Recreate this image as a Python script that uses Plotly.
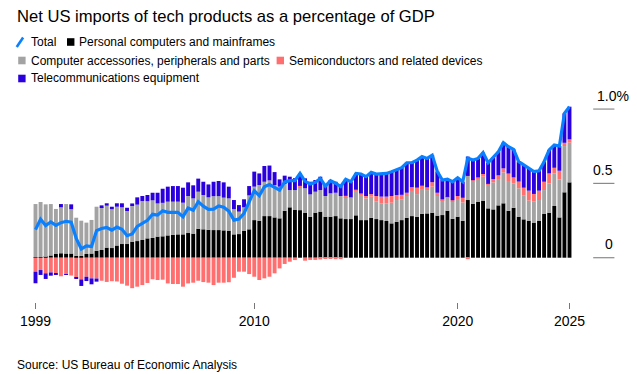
import pandas as pd
import plotly.graph_objects as go

# ---------------- data (share of GDP, %) ----------------
quarters = pd.period_range("1999Q1", "2025Q2", freq="Q")
dates = [p.end_time.strftime("%Y-%m-%d") for p in quarters]

pc = [0.003, 0.004, 0.005, 0.015, 0.025, 0.030, 0.028, 0.028, 0.013, 0.012,
      0.025, 0.028, 0.047, 0.052, 0.068, 0.065, 0.082, 0.092, 0.092, 0.108,
      0.112, 0.119, 0.130, 0.133, 0.142, 0.144, 0.150, 0.153, 0.157, 0.157,
      0.166, 0.162, 0.195, 0.191, 0.188, 0.186, 0.186, 0.184, 0.182, 0.157,
      0.159, 0.182, 0.191, 0.253, 0.249, 0.280, 0.280, 0.271, 0.265, 0.316,
      0.339, 0.321, 0.320, 0.303, 0.276, 0.303, 0.310, 0.276, 0.276, 0.280,
      0.265, 0.260, 0.260, 0.285, 0.253, 0.253, 0.269, 0.260, 0.253, 0.247,
      0.231, 0.242, 0.253, 0.269, 0.280, 0.276, 0.296, 0.298, 0.303, 0.283,
      0.287, 0.316, 0.262, 0.276, 0.249, 0.388, 0.363, 0.377, 0.384, 0.332,
      0.325, 0.352, 0.366, 0.316, 0.336, 0.276, 0.258, 0.249, 0.236, 0.247,
      0.294, 0.303, 0.348, 0.271, 0.440, 0.507]

acc = [0.358, 0.371, 0.354, 0.346, 0.303, 0.309, 0.333, 0.298, 0.256, 0.237,
       0.211, 0.226, 0.296, 0.287, 0.282, 0.261, 0.261, 0.247, 0.222, 0.245,
       0.245, 0.262, 0.250, 0.253, 0.223, 0.225, 0.227, 0.224, 0.220, 0.213,
       0.249, 0.237, 0.249, 0.231, 0.218, 0.228, 0.228, 0.220, 0.217, 0.170,
       0.151, 0.157, 0.228, 0.225, 0.240, 0.231, 0.240, 0.218, 0.213, 0.180,
       0.116, 0.134, 0.151, 0.164, 0.150, 0.141, 0.145, 0.139, 0.157, 0.157,
       0.150, 0.146, 0.144, 0.170, 0.173, 0.146, 0.141, 0.117, 0.113, 0.119,
       0.139, 0.146, 0.140, 0.146, 0.169, 0.152, 0.166, 0.157, 0.175, 0.132,
       0.101, 0.090, 0.115, 0.119, 0.123, 0.162, 0.155, 0.155, 0.161, 0.161,
       0.182, 0.177, 0.208, 0.200, 0.164, 0.191, 0.159, 0.135, 0.141, 0.141,
       0.161, 0.197, 0.219, 0.256, 0.311, 0.267]

semi = [-0.094, -0.083, -0.105, -0.099, -0.105, -0.125, -0.112, -0.120, -0.135, -0.146,
        -0.128, -0.139, -0.140, -0.155, -0.163, -0.158, -0.160, -0.175, -0.188, -0.205,
        -0.195, -0.184, -0.170, -0.145, -0.150, -0.148, -0.173, -0.177, -0.177, -0.195,
        -0.173, -0.168, -0.155, -0.164, -0.168, -0.184, -0.168, -0.168, -0.165, -0.135,
        -0.094, -0.094, -0.110, -0.128, -0.150, -0.139, -0.128, -0.105, -0.072, -0.042,
        -0.027, -0.016, 0.012, -0.020, -0.015, -0.015, -0.012, -0.008, -0.005, -0.010,
        -0.010, 0.010, 0.003, 0.003, 0.007, 0.016, 0.018, 0.038, 0.045, 0.045,
        0.045, 0.034, 0.030, 0.022, 0.025, 0.043, 0.022, 0.018, 0.030, 0.022,
        0.005, 0.003, 0.010, 0.020, 0.031, -0.010, 0.004, 0.009, 0.018, 0.004,
        0.022, 0.025, 0.027, 0.050, 0.040, 0.045, 0.054, 0.067, 0.052, 0.063,
        0.056, 0.067, 0.038, 0.058, 0.022, 0.022]

tel = [-0.078, -0.033, -0.038, -0.022, -0.005, 0.022, -0.004, 0.033, -0.004, -0.044,
       -0.029, -0.040, -0.021, 0.013, 0.016, 0.017, 0.023, 0.027, 0.022, 0.012,
       0.049, 0.034, 0.042, 0.051, 0.072, 0.095, 0.101, 0.105, 0.105, 0.101,
       0.092, 0.088, 0.088, 0.089, 0.087, 0.097, 0.102, 0.103, 0.079, 0.061,
       0.044, 0.054, 0.063, 0.101, 0.078, 0.106, 0.100, 0.087, 0.049, 0.056,
       0.090, 0.080, 0.084, 0.067, 0.085, 0.079, 0.090, 0.074, 0.090, 0.074,
       0.074, 0.111, 0.104, 0.109, 0.130, 0.130, 0.146, 0.148, 0.152, 0.156,
       0.164, 0.168, 0.183, 0.202, 0.165, 0.186, 0.196, 0.195, 0.182, 0.143,
       0.130, 0.120, 0.124, 0.123, 0.108, 0.130, 0.135, 0.127, 0.144, 0.142,
       0.146, 0.159, 0.173, 0.181, 0.189, 0.134, 0.153, 0.150, 0.150, 0.134,
       0.135, 0.158, 0.153, 0.166, 0.198, 0.220]

total = [round(a + b + c + d, 3) for a, b, c, d in zip(pc, acc, semi, tel)]

series_names = ["Personal computers and mainframes",
                "Computer accessories, peripherals and parts",
                "Semiconductors and related devices",
                "Telecommunications equipment"]
total_name = "Total"

x_tick_vals = [dates[0], "2010-01-01", "2020-01-01", dates[-1]]
x_tick_text = ["1999", "2010", "2020", "2025"]
y_tick_vals = [1.0, 0.5, 0.0]
y_tick_text = ["1.0%", "0.5", "0"]

title_text = "Net US imports of tech products as a percentage of GDP"
source_text = "Source: US Bureau of Economic Analysis"

# ---------------- style / geometry ----------------
# the page body has an 8px default margin; build the figure to fit what remains
OFF = 8
W, H = 637 - OFF, 374 - OFF
FONT = "Liberation Sans, Arial, Helvetica, sans-serif"
colors = ["#000000", "#a3a3a3", "#ff6f6f", "#2a00de"]
line_color = "#0a80ff"

# plot area in screen pixels: x 26..572.5, y 100..302
ML, MT = 26 - OFF, 100 - OFF
MR, MB = 637 - 572.5, 374 - 302
PW = W - ML - MR
PH = H - MT - MB


def px2x(px):
    return (px - OFF - ML) / PW


def px2y(py):
    return (H - MB - (py - OFF)) / PH


fig = go.Figure()
for name, vals, col in zip(series_names, [pc, acc, semi, tel], colors):
    fig.add_trace(go.Bar(x=dates, y=vals, name=name, marker_color=col,
                         marker_line_width=0, showlegend=False))
fig.add_trace(go.Scatter(x=dates, y=total, name=total_name, mode="lines",
                         line=dict(color=line_color, width=3.2),
                         showlegend=False))

shapes = []
annotations = []


def label(text, x, y, size, anchor="left", xref="paper", yref="paper", yshift=0):
    annotations.append(dict(text=text, x=x, y=y, xref=xref, yref=yref, yshift=yshift,
                            xanchor=anchor, yanchor="middle", showarrow=False, borderpad=0,
                            font=dict(family=FONT, size=size, color="#000")))


# title
label(title_text, px2x(9), px2y(16.5), 16.6)

# legend (manual, matching the reference's three rows)
shapes.append(dict(type="line", xref="paper", yref="paper",
                   x0=px2x(9.5), y0=px2y(47), x1=px2x(16), y1=px2y(37.5),
                   line=dict(color=line_color, width=2.6)))
label(total_name, px2x(23), px2y(42), 12)
legend_items = [(60.5, 42, 71.5, 0), (11, 60.5, 22.5, 1), (273, 60.5, 284.5, 2), (11, 78.5, 22.5, 3)]
for sx, sy, tx, k in legend_items:
    shapes.append(dict(type="rect", xref="paper", yref="paper",
                       x0=px2x(sx), x1=px2x(sx + 7.5), y0=px2y(sy - 3.8), y1=px2y(sy + 3.8),
                       fillcolor=colors[k], line=dict(width=0)))
    label(series_names[k], px2x(tx), px2y(sy), 12)

# right-hand value labels sitting on short rules
for v, t in zip(y_tick_vals, y_tick_text):
    shapes.append(dict(type="line", xref="paper", yref="y", x0=px2x(594), x1=px2x(615.5),
                       y0=v, y1=v, line=dict(color="#8a8a8a", width=1.2)))
    if t.endswith("%"):
        label(t, px2x(596.5), v, 14, "left", yref="y", yshift=13.5)
    else:
        label(t, px2x(615.5), v, 14, "right", yref="y", yshift=13.5)

# source
label(source_text, px2x(9), px2y(364.5), 12)

first = pd.Timestamp(dates[0]) - pd.Timedelta(days=45)
last = pd.Timestamp(dates[-1]) + pd.Timedelta(days=45)

fig.update_layout(
    width=W, height=H,
    margin=dict(l=ML, r=MR, t=MT, b=MB, pad=0),
    paper_bgcolor="white", plot_bgcolor="white",
    barmode="relative", bargap=0.22,
    shapes=shapes, annotations=annotations,
    font=dict(family=FONT, size=14, color="#000"),
    xaxis=dict(type="date", range=[first, last], tickmode="array",
               tickvals=x_tick_vals, ticktext=x_tick_text,
               ticks="outside", ticklen=6, tickwidth=1.3, tickcolor="#777",
               showgrid=False, zeroline=False, showline=False,
               tickfont=dict(family=FONT, size=14, color="#000")),
    yaxis=dict(range=[-0.298, 1.061], showgrid=False, zeroline=False,
               showticklabels=False, ticks="", showline=False),
)

fig.write_html("out.html")
